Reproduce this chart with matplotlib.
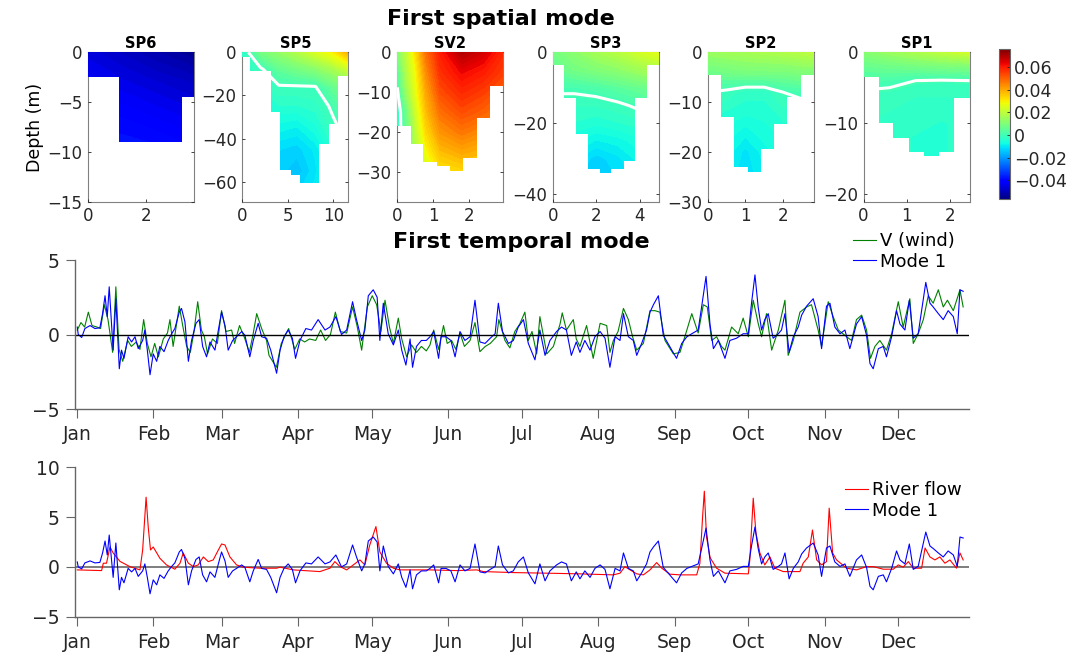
import numpy as np
import matplotlib.pyplot as plt
from matplotlib.patches import Polygon
from matplotlib.colors import Normalize
from matplotlib.cm import ScalarMappable

plt.rcParams['font.family'] = 'DejaVu Sans'

## ---------------- spatial mode: one depth section per station ----------------
## node grids (x along section, depth down), values, and the bottom steps
sp6_x = [0, 1.2, 2.4, 3.64]
sp6_z = [0, 3, 6, 9]
sp6_val = [[-0.046, -0.049, -0.052, -0.055],
           [-0.043, -0.045, -0.047, -0.049],
           [-0.040, -0.041, -0.043, -0.045],
           [-0.037, -0.038, -0.039, -0.041]]
sp6_edges = [0, 1.08, 3.24, 3.64]
sp6_bottom = [2.5, 9.0, 4.5]

sp5_x = [0, 2, 4, 6, 8, 10, 11.65]
sp5_z = [0, 8, 16, 25, 35, 45, 55, 62]
sp5_val = [[-0.004, 0.008, 0.013, 0.018, 0.024, 0.030, 0.040],
           [-0.004, -0.001, 0.005, 0.008, 0.011, 0.016, 0.022],
           [-0.006, -0.004, -0.0005, -0.0005, -0.0003, 0.006, 0.010],
           [-0.007, -0.006, -0.004, -0.004, -0.003, 0.001, 0.005],
           [-0.009, -0.009, -0.008, -0.009, -0.006, -0.001, 0.002],
           [-0.012, -0.012, -0.012, -0.013, -0.010, -0.004, 0.000],
           [-0.013, -0.013, -0.013, -0.015, -0.011, -0.005, -0.002],
           [-0.012, -0.012, -0.012, -0.013, -0.010, -0.005, -0.002]]
sp5_edges = [0, 0.84, 3.2, 4.1, 5.3, 6.3, 8.4, 9.5, 10.5, 11.65]
sp5_bottom = [2.0, 8.5, 27.5, 54.5, 56.8, 60.4, 42.4, 33.2, 11.0]

sv2_x = [0, 0.25, 0.5, 0.8, 1.2, 1.8, 2.4, 2.96]
sv2_z = [0, 5, 10, 15, 20, 25, 30]
sv2_val = [[0.010, 0.020, 0.032, 0.048, 0.060, 0.070, 0.066, 0.058],
           [0.003, 0.018, 0.028, 0.044, 0.057, 0.063, 0.060, 0.055],
           [-0.001, 0.014, 0.026, 0.040, 0.053, 0.058, 0.055, 0.050],
           [-0.004, 0.007, 0.022, 0.037, 0.048, 0.053, 0.050, 0.046],
           [-0.004, 0.006, 0.019, 0.033, 0.043, 0.047, 0.044, 0.040],
           [-0.003, 0.005, 0.017, 0.028, 0.037, 0.040, 0.038, 0.035],
           [-0.003, 0.005, 0.014, 0.024, 0.031, 0.033, 0.031, 0.030]]
sv2_edges = [0, 0.37, 0.73, 1.12, 1.48, 1.83, 2.22, 2.6, 2.96]
sv2_bottom = [18.3, 22.9, 27.5, 28.5, 29.6, 26.3, 16.4, 8.5]

sp3_x = [0, 1, 2, 3, 4, 4.88]
sp3_z = [0, 5, 10, 15, 20, 25, 30, 35]
sp3_val = [[0.008, 0.012, 0.016, 0.019, 0.023, 0.026],
           [0.005, 0.008, 0.010, 0.012, 0.015, 0.017],
           [0.001, 0.001, 0.002, 0.004, 0.006, 0.008],
           [-0.002, -0.002, -0.002, -0.001, 0.001, 0.003],
           [-0.004, -0.004, -0.005, -0.004, -0.003, -0.001],
           [-0.006, -0.007, -0.009, -0.008, -0.006, -0.004],
           [-0.008, -0.010, -0.013, -0.011, -0.008, -0.006],
           [-0.009, -0.011, -0.014, -0.012, -0.009, -0.007]]
sp3_edges = [0, 0.53, 1.07, 1.63, 2.2, 2.7, 3.27, 3.77, 4.34, 4.88]
sp3_bottom = [3.6, 13.0, 23.0, 33.0, 34.0, 33.0, 30.5, 13.0, 3.6]

sp2_x = [0, 0.5, 1.0, 1.5, 2.0, 2.5, 2.83]
sp2_z = [0, 4, 8, 12, 16, 20, 25]
sp2_val = [[0.014, 0.015, 0.016, 0.017, 0.018, 0.019, 0.020],
           [0.007, 0.008, 0.009, 0.009, 0.009, 0.010, 0.010],
           [0.000, -0.001, -0.003, -0.003, 0.000, 0.001, 0.002],
           [-0.003, -0.004, -0.005, -0.005, -0.003, -0.002, -0.001],
           [-0.005, -0.006, -0.008, -0.006, -0.005, -0.004, -0.003],
           [-0.006, -0.008, -0.011, -0.008, -0.006, -0.005, -0.004],
           [-0.007, -0.009, -0.012, -0.009, -0.007, -0.006, -0.005]]
sp2_edges = [0, 0.35, 0.7, 1.07, 1.41, 1.75, 2.1, 2.49, 2.83]
sp2_bottom = [4.6, 13.0, 23.0, 24.0, 19.5, 14.4, 9.0, 4.6]

sp1_x = [0, 0.6, 1.2, 1.8, 2.45]
sp1_z = [0, 2, 4, 6, 8, 10, 12, 15]
sp1_val = [[0.011, 0.014, 0.017, 0.020, 0.023],
           [0.006, 0.007, 0.008, 0.009, 0.010],
           [0.002, 0.001, 0.000, -0.0003, 0.000],
           [-0.001, -0.001, -0.002, -0.002, -0.002],
           [-0.002, -0.002, -0.003, -0.003, -0.003],
           [-0.002, -0.003, -0.003, -0.004, -0.003],
           [-0.002, -0.003, -0.004, -0.004, -0.003],
           [-0.002, -0.003, -0.004, -0.004, -0.003]]
sp1_edges = [0, 0.35, 0.69, 1.06, 1.4, 1.75, 2.09, 2.45]
sp1_bottom = [3.5, 10.0, 12.1, 14.1, 14.6, 14.1, 6.5]

cbar_ticks = [-0.04, -0.02, 0, 0.02, 0.04, 0.06]
cbar_labels = ['\u22120.04', '\u22120.02', '0', '0.02', '0.04', '0.06']

## ---------------- temporal mode ----------------
month_days = [0, 31, 59, 90, 120, 151, 181, 212, 243, 273, 304, 334]
month_names = ['Jan', 'Feb', 'Mar', 'Apr', 'May', 'Jun',
               'Jul', 'Aug', 'Sep', 'Oct', 'Nov', 'Dec']

mode1_day = [0, 0.4, 1.8, 3.1, 5.2, 7.2, 9.2, 10.3, 11.3, 12.2, 13.0, 14.0, 14.6, 15.7,
             17.1, 18.0, 19.0, 20.7, 22.1, 23.5, 24.8, 26.6, 27.5, 28.5, 29.6, 30.9,
             32.3, 33.6, 35.3, 37.0, 38.4, 39.7, 41.5, 42.4, 43.8, 45.2, 46.5, 48.3,
             49.6, 51.0, 52.6, 54.0, 56.0, 57.4, 58.7, 60.1, 61.4, 63.2, 64.8, 66.9,
             68.2, 70.2, 71.6, 73.6, 75.0, 77.0, 78.7, 79.7, 81.1, 82.5, 84.1, 85.8,
             87.5, 88.8, 90.6, 93.0, 95.3, 98.0, 100.8, 102.8, 105.2, 107.5, 109.6,
             112.0, 113.6, 115.7, 117.0, 118.4, 120.4, 122.0, 123.1, 124.5, 126.5,
             128.6, 130.6, 132.0, 133.7, 135.4, 136.4, 138.0, 140.0, 142.0, 143.5,
             145.0, 147.0, 148.0, 150.0, 152.0, 153.7, 155.7, 157.7, 159.8, 161.8,
             163.8, 165.9, 168.0, 170.0, 171.3, 173.0, 175.4, 177.4, 179.4, 181.5,
             183.5, 186.2, 188.2, 190.3, 192.3, 195.0, 197.0, 199.0, 201.0, 203.0,
             204.5, 206.5, 208.6, 210.6, 212.7, 214.7, 216.7, 218.8, 220.8, 222.2,
             224.2, 226.2, 227.6, 229.6, 231.6, 233.0, 234.4, 236.4, 238.4, 241.0,
             243.8, 245.9, 248.0, 250.0, 252.6, 254.0, 255.8, 257.4, 258.8, 260.8,
             263.5, 265.5, 268.2, 270.9, 273.0, 274.3, 275.7, 277.0, 278.4, 279.7,
             281.1, 283.1, 285.2, 286.5, 287.9, 289.6, 291.3, 293.3, 294.7, 296.7,
             299.4, 301.4, 302.8, 304.8, 306.2, 308.2, 310.3, 312.3, 314.3, 317.0,
             319.1, 321.1, 322.5, 323.8, 325.9, 327.9, 329.2, 331.3, 333.3, 334.7,
             336.7, 338.5, 340.1, 342.1, 343.5, 345.2, 346.9, 348.2, 350.3, 352.3,
             354.3, 356.4, 358.0, 359.1, 360.4]
mode1_val = [0.5, 0.0, -0.2, 0.4, 0.6, 0.4, 0.45, 1.4, 2.6, 1.2, 3.2, 0.5, -1.05, 2.4,
             -2.3, -1.05, -1.6, -0.15, -0.5, -0.15, -0.95, -0.4, 0.3, -1.05, -2.7, -1.3,
             -1.8, -0.8, -1.15, -0.4, 0.05, 0.4, 1.5, 1.75, 0.85, -1.8, -0.4, 0.75,
             1.0, -0.8, -1.5, -0.5, -1.05, 0.3, 1.5, 0.6, -1.05, -0.4, -0.15, 0.2,
             -0.05, -1.5, -0.4, 0.75, -0.15, -0.25, -1.05, -1.7, -2.6, -1.05, -0.15, 0.3,
             -0.25, -1.6, -0.4, 0.4, 0.3, 1.0, 0.3, 0.5, 1.2, 0.0, 0.3,
             2.2, 1.0, -0.4, 0.3, 2.6, 3.0, 2.5, -0.4, 2.1, 0.05,
             -0.7, 0.3, -1.05, -2.05, -0.3, -2.2, -0.8, -0.4, -0.4, -0.15,
             0.2, -1.6, -0.15, -0.15, -0.4, -1.5, 0.2, -0.4, -0.15, 2.3,
             -0.5, -0.6, -0.25, 0.05, 2.1, 0.2, -0.6, -0.4, 0.5, 1.0,
             -0.6, -1.7, 0.3, -1.4, -0.4, 0.2, 0.5, 0.3, -1.4, -0.5,
             -1.2, -0.4, -1.05, -0.15, 0.2, -0.25, -2.2, -0.15, -0.4, 1.4,
             -0.15, -0.4, -1.4, -0.6, 0.3, 1.5, 2.0, 2.6, -0.05, -0.8,
             -1.6, -0.6, -0.15, 0.05, 0.3, 1.85, 3.9, 0.7, -0.95, -0.4,
             -1.6, -0.4, -0.25, 0.05, 0.05, 2.1, 4.0, 1.85, 0.3, 1.0,
             1.4, -0.25, 0.05, 0.3, 1.4, -1.2, -0.15, 0.5, 1.3, 1.9,
             2.4, 1.2, -0.95, 1.9, 2.1, 0.5, 0.05, 0.3, -0.95, 0.7,
             1.2, -0.05, -1.95, -2.3, -0.95, -0.8, -1.5, -0.15, 1.6, 0.7,
             0.3, 2.3, -0.25, 0.05, 1.6, 3.5, 2.1, 1.85, 1.4, 1.0,
             1.6, 1.2, 0.05, 3.0, 2.9]

wind_day = [0, 1.5, 3.0, 4.5, 6.0, 8.0, 9.5, 11.0, 12.5, 14.4, 15.7, 17.0, 18.5, 20.5,
            22.0, 24.0, 25.5, 27.0, 28.5, 30.0, 31.5, 33.0, 35.0, 36.7, 37.7, 39.0,
            41.5, 43.0, 44.5, 46.0, 47.5, 49.0, 50.5, 51.7, 53.0, 55.0, 57.0, 58.7,
            60.5, 62.8, 64.0, 66.0, 68.0, 70.0, 71.5, 73.0, 75.0, 77.0, 78.0, 81.0,
            83.0, 86.0, 88.5, 90.5, 92.5, 94.5, 97.0, 99.0, 101.0, 103.0, 105.0, 107.0,
            109.6, 112.0, 113.8, 115.7, 118.0, 120.0, 121.8, 123.5, 125.2, 127.0, 128.6,
            130.6, 132.0, 134.0, 136.0, 138.0, 140.0, 142.0, 143.5, 145.0, 147.0, 149.0,
            150.5, 152.3, 154.0, 155.7, 157.5, 159.8, 161.8, 163.8, 166.0, 168.0, 170.6,
            171.5, 174.0, 176.0, 178.0, 180.0, 182.1, 183.5, 185.0, 186.9, 188.2, 191.0,
            193.7, 196.4, 197.3, 199.0, 201.8, 203.0, 204.5, 207.2, 209.9, 212.7, 215.4,
            216.7, 218.1, 220.0, 222.2, 224.2, 226.0, 227.6, 230.3, 233.0, 235.0, 237.0,
            239.1, 242.5, 245.2, 248.0, 250.0, 252.6, 254.7, 256.3, 258.1, 260.1, 262.1,
            263.5, 266.2, 268.9, 270.9, 273.0, 275.0, 277.0, 278.4, 280.4, 282.5, 285.2,
            287.9, 289.2, 291.3, 294.0, 296.7, 298.7, 301.4, 302.8, 305.5, 307.5, 309.6,
            313.0, 315.0, 317.0, 319.1, 321.1, 322.7, 324.5, 326.5, 329.2, 331.3, 334.0,
            336.0, 338.7, 340.1, 342.1, 344.2, 346.2, 348.2, 350.3, 352.3, 354.0, 356.4,
            359.1, 360.4]
wind_val = [0.3, 0.8, 0.5, 1.5, 0.6, 0.5, 0.4, 2.0, 1.0, -1.2, 3.2, -1.0, -1.8, -0.4,
            -0.8, -0.5, -1.0, 1.0, -0.6, -1.5, -0.6, -1.5, -0.3, 0.1, 1.0, -0.8,
            1.9, 0.5, -0.8, -1.2, 0.2, 2.2, 0.3, -0.15, -1.3, -0.3, -0.6, 1.6,
            0.2, 0.3, -0.6, 0.6, -0.2, -1.2, 0.0, 1.4, 0.4, -0.4, -1.4, -2.2,
            -0.6, 0.4, -1.0, -0.3, -0.5, -0.3, -0.4, 0.3, -0.4, 0.0, 1.5, 0.2,
            0.1, 1.85, 0.6, -1.05, 1.85, 2.6, 2.0, 0.2, 2.3, 0.5, -0.6,
            1.1, -0.3, -1.5, -0.7, -1.2, -0.8, -1.1, -0.7, 0.3, -1.0, 0.6,
            -0.6, -0.4, -1.0, 0.1, -0.8, -0.4, 0.8, -1.15, -0.8, -0.6, -0.15,
            1.0, -0.4, -0.9, 0.2, 0.7, 1.5, -0.4, 0.2, -1.3, 1.2, -1.3,
            -0.8, 0.7, 1.45, 0.3, 1.0, -0.3, -0.8, 0.6, -1.6, 0.75, 0.6,
            -1.2, -0.4, 0.2, 1.75, 1.0, -0.2, -1.05, -0.6, 1.6, 1.6, 1.5,
            -0.4, -1.3, -1.2, 0.3, 1.4, 0.1, 2.0, 1.85, -0.4, -0.15, -0.8,
            -1.05, 0.5, 0.05, 1.1, -0.15, 2.3, 0.75, -0.15, 1.4, -1.05, 0.3,
            2.3, -1.4, -0.4, 1.5, 1.85, 2.0, 0.3, -0.8, 2.2, 1.2, 0.3,
            -0.15, -0.4, 1.0, 1.3, 0.3, -1.6, -0.8, -0.4, -1.05, 0.05, 2.2,
            0.5, 2.4, -0.6, 0.05, 1.0, 2.6, 2.1, 3.0, 1.85, 2.3, 1.6,
            3.0, 1.85]

flow_day = [0, 9.9, 10.6, 11.9, 13.3, 14.6, 17.4, 21.4, 25.5, 26.6, 28.0, 28.9, 29.8,
            30.9, 33.6, 36.3, 39.7, 41.8, 43.1, 45.2, 47.2, 49.2, 51.3, 53.3, 55.3,
            57.4, 58.7, 60.1, 62.1, 64.8, 67.5, 74.3, 81.1, 82.5, 87.9, 98.7, 102.8,
            104.8, 106.9, 109.6, 112.3, 115.0, 117.0, 119.0, 121.5, 123.1, 125.8,
            128.6, 131.3, 143.5, 154.3, 162.5, 165.2, 177.4, 191.0, 204.5, 218.1,
            220.8, 222.8, 224.9, 227.6, 230.3, 233.0, 235.7, 237.8, 241.1, 245.2,
            252.0, 253.3, 254.4, 255.1, 256.0, 257.4, 258.0, 260.1, 263.5, 273.0,
            273.6, 275.0, 276.1, 277.7, 279.7, 281.8, 283.8, 287.2, 294.0, 295.3,
            297.4, 299.1, 300.8, 302.8, 304.8, 305.9, 307.3, 308.9, 313.0, 317.0,
            321.1, 323.8, 327.9, 332.0, 334.0, 336.0, 338.1, 340.1, 343.5, 344.9,
            346.9, 348.9, 350.9, 353.0, 355.0, 357.7, 359.1, 360.4]
flow_val = [-0.3, -0.37, 0.37, 0.37, 2.0, 1.4, 0.55, 0.03, -0.3, 1.7, 7.0, 3.9, 1.7,
            2.0, 0.87, 0.2, -0.23, 0.37, 1.4, 0.37, 0.03, 0.2, 1.0, 0.53, 0.7,
            1.7, 2.3, 2.2, 1.0, 0.2, -0.03, -0.13, -0.13, -0.03, -0.3, -0.47, -0.13,
            0.53, 0.03, -0.3, 0.2, 0.7, 0.2, 2.2, 4.05, 1.5, 0.37,
            -0.13, -0.3, -0.3, -0.37, -0.3, -0.47, -0.57, -0.63, -0.7, -0.8,
            -0.63, 0.03, -0.3, -0.7, -0.8, -0.3, 0.43, -0.13, -0.73, -0.8,
            -0.8, 0.37, 5.05, 7.6, 3.0, 1.0, 0.7, -0.13, -0.63, -0.7,
            0.7, 6.9, 3.4, 1.4, 0.2, 1.0, -0.13, -0.47, -0.47, 0.37,
            1.0, 3.7, 0.7, 0.2, 0.53, 5.9, 1.4, 0.7, -0.13, -0.3,
            0.03, 0.03, -0.23, -0.23, 0.2, -0.03, 0.53, -0.13, -0.13, 1.9,
            1.0, 0.7, 1.0, 0.37, 0.7, -0.13, 1.4, 0.7]


def draw_section(ax, x, z, val, edges, bottom, norm, levels):
    '''Filled contours of one section, clipped to the bottom profile'''
    X, Z = np.meshgrid(x, -np.array(z, dtype=float))
    V = np.array(val)
    verts = [(edges[0], 0.0)]
    for i_col, depth in enumerate(bottom):
        verts.append((edges[i_col], -depth))
        verts.append((edges[i_col + 1], -depth))
    verts.append((edges[-1], 0.0))
    outline = Polygon(verts, closed=True, facecolor='none', edgecolor='none')
    ax.add_patch(outline)
    cs = ax.contourf(X, Z, V, levels=levels, cmap='jet', norm=norm, extend='both', zorder=3)
    cs.set_clip_path(outline)
    if V.min() < 0 < V.max():
        cl = ax.contour(X, Z, V, levels=[0], colors='white', linewidths=2.2, zorder=4)
        cl.set_clip_path(outline)


fig = plt.figure(figsize=(10.7, 6.63), dpi=100)
W, H = 1070., 663.

def px_axes(left, top, right, bottom):
    return fig.add_axes([left / W, 1 - bottom / H, (right - left) / W, (bottom - top) / H])

norm = Normalize(vmin=-0.057, vmax=0.076)
levels = np.linspace(-0.057, 0.076, 81)

sections = [
    ('SP6', sp6_x, sp6_z, sp6_val, sp6_edges, sp6_bottom, 3.64, -15.0, [0, 2], [-15, -10, -5, 0]),
    ('SP5', sp5_x, sp5_z, sp5_val, sp5_edges, sp5_bottom, 11.65, -69.3, [0, 5, 10], [-60, -40, -20, 0]),
    ('SV2', sv2_x, sv2_z, sv2_val, sv2_edges, sv2_bottom, 2.96, -37.3, [0, 1, 2], [-30, -20, -10, 0]),
    ('SP3', sp3_x, sp3_z, sp3_val, sp3_edges, sp3_bottom, 4.88, -42.1, [0, 2, 4], [-40, -20, 0]),
    ('SP2', sp2_x, sp2_z, sp2_val, sp2_edges, sp2_bottom, 2.83, -30.0, [0, 1, 2], [-30, -20, -10, 0]),
    ('SP1', sp1_x, sp1_z, sp1_val, sp1_edges, sp1_bottom, 2.45, -21.1, [0, 1, 2], [-20, -10, 0]),
]
lefts = [87.7, 242.3, 397.3, 552.7, 708.0, 863.5]

for left, (name, x, z, val, edges, bottom, xmax, zmin, xt, yt) in zip(lefts, sections):
    ax = px_axes(left, 52.3, left + 106.0, 201.7)
    draw_section(ax, x, z, val, edges, bottom, norm, levels)
    ax.set_xlim(0, xmax)
    ax.set_ylim(zmin, 0)
    ax.set_xticks(xt)
    ax.set_yticks(yt)
    ax.tick_params(direction='in', length=2.5, width=0.6, labelsize=12, colors='0.15',
                   top=False, right=True, pad=4)
    for spine in ax.spines.values():
        spine.set_color('0.5')
        spine.set_linewidth(0.8)
        spine.set_zorder(0)
    ax.set_title(name, fontsize=10.5, fontweight='bold', pad=3)
    if name == 'SP6':
        ax.set_ylabel('Depth (m)', fontsize=12.5, labelpad=2)

cax = px_axes(998.7, 49.3, 1009.7, 199.3)
cbar = fig.colorbar(ScalarMappable(norm=norm, cmap='jet'), cax=cax)
cbar.set_ticks(cbar_ticks)
cbar.set_ticklabels(cbar_labels)
cbar.ax.tick_params(direction='in', length=2.5, width=0.6, labelsize=12.5, colors='0.15', pad=3)
cbar.outline.set_edgecolor('0.4')
cbar.outline.set_linewidth(0.8)

fig.text(501 / W, 1 - 19 / H, 'First spatial mode', ha='center', va='center',
         fontsize=16, fontweight='bold')
fig.text(521 / W, 1 - 242 / H, 'First temporal mode', ha='center', va='center',
         fontsize=16, fontweight='bold')


def style_time_axis(ax, ylim, yticks):
    ax.set_xlim(-0.8, 362.9)
    ax.set_ylim(*ylim)
    ax.set_yticks(yticks)
    ax.set_xticks(month_days)
    ax.set_xticklabels(month_names)
    ax.spines['top'].set_visible(False)
    ax.spines['right'].set_visible(False)
    for side in ['left', 'bottom']:
        ax.spines[side].set_color('0.4')
        ax.spines[side].set_linewidth(1.0)
    ax.tick_params(direction='out', length=6.5, width=0.8, colors='0.4',
                   labelcolor='0.15', labelsize=13.5, pad=5)


## wind vs. temporal mode
ax1 = px_axes(75.3, 260.0, 969.3, 409.0)
ax1.plot(wind_day, wind_val, color='#008000', lw=0.8, label='V (wind)')
ax1.plot(mode1_day, mode1_val, color='#0000ff', lw=0.8, label='Mode 1')
ax1.axhline(0, color='k', lw=1.0)
style_time_axis(ax1, (-5, 5), [-5, 0, 5])
ax1.legend(loc='upper left', bbox_to_anchor=(853 / W, 1 - 232 / H),
           bbox_transform=fig.transFigure, frameon=False, fontsize=13,
           handlelength=1.25, handletextpad=0.25, labelspacing=0.15,
           borderpad=0, borderaxespad=0)

## river flow vs. temporal mode
ax2 = px_axes(75.3, 467.3, 969.3, 616.7)
ax2.axhline(0, color='0.45', lw=1.3)
ax2.plot(flow_day, flow_val, color='#ff0000', lw=0.8, label='River flow')
ax2.plot(mode1_day, mode1_val, color='#0000ff', lw=0.8, label='Mode 1')
style_time_axis(ax2, (-5, 10), [-5, 0, 5, 10])
ax2.legend(loc='upper left', bbox_to_anchor=(845 / W, 1 - 481 / H),
           bbox_transform=fig.transFigure, frameon=False, fontsize=13,
           handlelength=1.25, handletextpad=0.25, labelspacing=0.15,
           borderpad=0, borderaxespad=0)

fig.savefig('out.png', dpi=100)
